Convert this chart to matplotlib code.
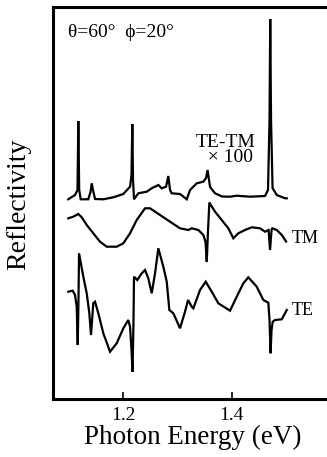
import numpy as np
import matplotlib
matplotlib.use("Agg")
import matplotlib.pyplot as plt

# TE-TM difference spectrum (x100), offset upward
te_tm_energy = [1.0985, 1.1109, 1.1155, 1.1170, 1.1186, 1.1214, 1.1354, 1.1395, 1.1417,
                1.1441, 1.1478, 1.1631, 1.1815, 1.2000, 1.2124, 1.2151, 1.2166, 1.2179,
                1.2197, 1.2277, 1.2432, 1.2530, 1.2585, 1.2646, 1.2708, 1.2788, 1.2830,
                1.2862, 1.2893, 1.3046, 1.3170, 1.3231, 1.3354, 1.3476, 1.3526, 1.3554,
                1.3581, 1.3600, 1.3692, 1.3821, 1.3969, 1.4092, 1.4338, 1.4614, 1.4669,
                1.4697, 1.4710, 1.4725, 1.4753, 1.4830, 1.4983, 1.5015]
te_tm_refl = [2.007, 2.05, 2.10, 2.79, 2.10, 2.007, 2.007, 2.08, 2.167,
              2.10, 2.01, 2.007, 2.027, 2.06, 2.133, 2.25, 2.76, 2.20,
              2.007, 2.067, 2.083, 2.12, 2.133, 2.15, 2.117, 2.133, 2.24,
              2.10, 2.067, 2.06, 2.007, 2.10, 2.167, 2.183, 2.22, 2.30,
              2.20, 2.13, 2.067, 2.035, 2.033, 2.043, 2.033, 2.04, 2.10,
              2.80, 3.81, 2.80, 2.12, 2.05, 2.017, 2.017]

# TM spectrum
tm_energy = [1.0985, 1.1077, 1.1170, 1.1232, 1.1325, 1.1446, 1.1570, 1.1694, 1.1878,
             1.2000, 1.2124, 1.2247, 1.2400, 1.2493, 1.2677, 1.2862, 1.3046, 1.3200,
             1.3262, 1.3384, 1.3476, 1.3517, 1.3539, 1.3563, 1.3587, 1.3692, 1.3815,
             1.3937, 1.4030, 1.4122, 1.4245, 1.4369, 1.4522, 1.4614, 1.4679, 1.4707,
             1.4734, 1.4749, 1.4830, 1.4923, 1.5002]
tm_refl = [1.817, 1.833, 1.86, 1.827, 1.75, 1.667, 1.583, 1.533, 1.533,
           1.567, 1.667, 1.80, 1.917, 1.917, 1.85, 1.783, 1.717, 1.70,
           1.717, 1.70, 1.65, 1.58, 1.383, 1.70, 1.975, 1.883, 1.80,
           1.717, 1.617, 1.667, 1.70, 1.727, 1.717, 1.683, 1.70, 1.50,
           1.70, 1.717, 1.70, 1.65, 1.585]

# TE spectrum
te_energy = [1.0985, 1.1066, 1.1109, 1.1140, 1.1159, 1.1173, 1.1183, 1.1262, 1.1325,
             1.1373, 1.1404, 1.1446, 1.1478, 1.1539, 1.1631, 1.1755, 1.1878, 1.2000,
             1.2092, 1.2124, 1.2151, 1.2170, 1.2188, 1.2197, 1.2258, 1.2340, 1.2400,
             1.2461, 1.2524, 1.2585, 1.2646, 1.2738, 1.2801, 1.2849, 1.2923, 1.3046,
             1.3138, 1.3194, 1.3262, 1.3292, 1.3415, 1.3520, 1.3631, 1.3753, 1.3969,
             1.4122, 1.4214, 1.4306, 1.4461, 1.4583, 1.4675, 1.4697, 1.4716, 1.4734,
             1.4756, 1.4799, 1.4923, 1.5015]
te_refl = [1.083, 1.093, 1.05, 0.933, 0.55, 1.00, 1.467, 1.233, 1.067,
           0.867, 0.65, 0.967, 0.983, 0.867, 0.667, 0.483, 0.567, 0.717,
           0.80, 0.733, 0.50, 0.283, 0.80, 1.233, 1.20, 1.267, 1.30,
           1.217, 1.067, 1.267, 1.517, 1.333, 1.183, 0.90, 0.867, 0.717,
           0.883, 1.00, 0.933, 0.917, 1.10, 1.183, 1.083, 0.967, 0.893,
           1.067, 1.167, 1.227, 1.133, 1.00, 0.973, 0.80, 0.467, 0.70,
           0.783, 0.80, 0.807, 0.90]

xticks = [1.2, 1.4]
xtick_labels = ["1.2", "1.4"]

plt.rcParams['font.family'] = ['Liberation Serif', 'DejaVu Serif']

fig = plt.figure(figsize=(3.27, 4.57), dpi=100)
ax = fig.add_axes([0.1621, 0.1269, 0.845, 0.8578])

for e, r in [(te_tm_energy, te_tm_refl), (tm_energy, tm_refl), (te_energy, te_refl)]:
    ax.plot(e, r, color='black', linewidth=1.6, solid_joinstyle='miter')

ax.set_xlim(1.0703, 1.58)
ax.set_ylim(0.01, 3.93)

# the right edge of the frame is cut off in the original
for side in ['left', 'bottom', 'top']:
    ax.spines[side].set_linewidth(2.2)
ax.spines['right'].set_visible(False)

ax.set_xticks(xticks)
ax.set_xticklabels(xtick_labels, fontsize=14)
ax.set_yticks([])
ax.tick_params(axis='x', direction='in', length=5, width=1.2, pad=6)

ax.text(1.098, 3.67, "θ=60°  \u03d5=20°", fontsize=14, va='center', ha='left')
ax.text(1.388, 2.50, "TE-TM\n  × 100", fontsize=14, va='center', ha='center',
        linespacing=0.78)
ax.text(1.5113, 1.62, "TM", fontsize=13, va='center', ha='left')
ax.text(1.5113, 0.90, "TE", fontsize=13, va='center', ha='left')

fig.text((83 + 302) / 2 / 327, 1 - 437 / 457, "Photon Energy (eV)", fontsize=19.5,
         ha='center', va='center')
fig.text(19 / 327, 1 - 204 / 457, "Reflectivity", fontsize=20, rotation=90,
         ha='center', va='center')

fig.savefig("out.png", dpi=100)
